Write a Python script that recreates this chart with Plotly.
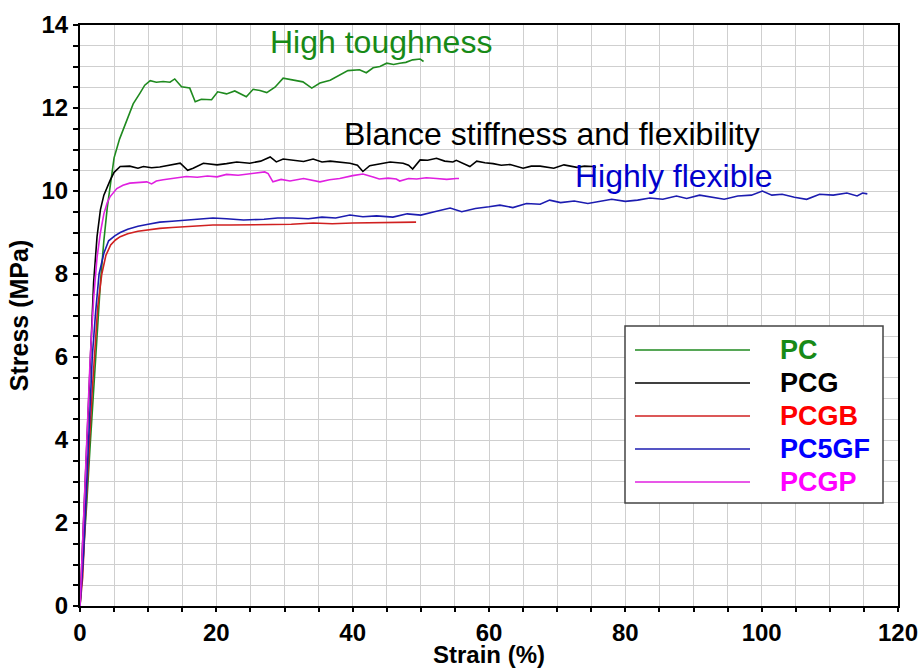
import plotly.graph_objects as go

# ---- data ----
PC_x = [0,0.5,1,1.5,2,2.5,3,3.5,4,4.5,5,5.8,6.8,7.8,8.8,9.5,10.3,11.2,12.2,13.2,13.9,14.9,16.1,16.9,17.8,19.3,20.2,21.5,22.7,23.6,24.4,25.4,26.4,27.4,28.6,29.8,31.3,32.7,34.0,35.2,36.7,38.1,39.3,41.0,42.0,43.0,44.0,45.0,46.0,46.9,47.8,48.8,49.9,50.4]
PC_y = [0,1.2,2.5,3.9,5.3,6.6,7.8,8.8,9.6,10.2,10.8,11.25,11.7,12.1,12.36,12.55,12.66,12.62,12.64,12.62,12.7,12.51,12.48,12.15,12.21,12.2,12.39,12.34,12.41,12.33,12.27,12.45,12.42,12.37,12.5,12.72,12.67,12.63,12.48,12.6,12.67,12.8,12.9,12.92,12.85,12.97,13.0,13.08,13.05,13.08,13.1,13.16,13.18,13.12]

PCG_x = [0,0.5,1,1.5,2,2.5,3,3.5,4,4.4,5,5.9,7.3,8.5,9.3,10.5,11.7,13,14.7,15.8,16.6,18.1,20.1,21.5,23,24.9,26.5,27.9,28.8,29.8,30.8,32.8,34.2,35.5,36.7,38,39.6,40.7,41.5,42.5,44,45.5,47.4,48.2,48.8,49.9,51,52.3,53.5,54.7,55.2,56.2,57.2,58.2,59.4,60.6,61.8,63.1,65,66.2,67.5,69.5,71,72.9,74,75.2,75.7]
PCG_y = [0,1.9,3.9,5.9,7.8,8.9,9.55,9.9,10.12,10.25,10.45,10.59,10.6,10.55,10.59,10.56,10.58,10.62,10.67,10.5,10.55,10.67,10.63,10.66,10.7,10.67,10.72,10.82,10.7,10.77,10.75,10.71,10.77,10.7,10.72,10.7,10.67,10.62,10.47,10.61,10.66,10.7,10.67,10.62,10.53,10.75,10.74,10.79,10.72,10.7,10.74,10.66,10.59,10.72,10.68,10.66,10.62,10.64,10.55,10.6,10.6,10.55,10.63,10.57,10.6,10.59,10.57]

PCGB_x = [0,0.4,0.75,1.1,1.4,1.8,2.2,2.6,3.2,3.8,4.5,5.2,5.9,7,8.5,10,11.7,13.5,15.5,17.5,19.5,22,25,28,31,34.2,37,40,43,46,48.8,49.3]
PCGB_y = [0,0.7,2.0,3.2,4.0,5.2,6.3,7.2,8.0,8.45,8.7,8.82,8.9,8.97,9.03,9.07,9.1,9.12,9.14,9.16,9.18,9.18,9.19,9.2,9.2,9.23,9.21,9.23,9.24,9.24,9.25,9.25]

PC5GF_x = [0,0.5,1,1.4,1.8,2.3,2.8,3.5,4.2,5.1,5.9,7,8.5,10,11.7,13.5,15.5,17.5,19.5,21.5,24,27,29,31.2,33.5,35.5,37.5,39.6,41.5,43.5,45.9,48,50,52,54.3,56,58,60,61.6,63.5,65.5,67.5,68.9,70.5,72.5,74.5,76.2,78,80,81.8,83.6,85.5,87.5,89,90.9,92.5,94.5,96.5,98.5,100.1,101.5,103,104.8,106.6,108.5,110.5,112.5,114,114.8,115.5]
PC5GF_y = [0,1.2,3.0,4.5,6.0,7.1,8.0,8.5,8.8,8.92,9.0,9.08,9.15,9.2,9.25,9.27,9.3,9.32,9.35,9.33,9.3,9.32,9.35,9.35,9.33,9.37,9.35,9.42,9.38,9.4,9.37,9.45,9.42,9.5,9.59,9.5,9.58,9.62,9.66,9.6,9.7,9.68,9.78,9.72,9.76,9.7,9.74,9.8,9.75,9.78,9.83,9.8,9.88,9.82,9.9,9.85,9.8,9.88,9.9,10.0,9.9,9.92,9.85,9.8,9.92,9.9,9.95,9.88,9.95,9.93]

PCGP_x = [0,0.5,1,1.5,2,2.5,3,3.5,4,4.4,5.4,6.3,7.3,8.5,9.8,10.5,11.2,12.2,13.8,15.6,17.2,18.7,20.1,21.5,23.2,24.9,26,27.1,27.6,28.3,29.5,30.8,32.8,34,35.2,36.6,38.1,40,41.5,43,43.9,45.2,46.4,46.9,48.2,49.4,50.8,52.3,53.8,55.2,55.6]
PCGP_y = [0,2.0,4.0,6.0,7.4,8.4,9.0,9.45,9.72,9.86,10.06,10.14,10.19,10.2,10.22,10.17,10.24,10.27,10.3,10.35,10.33,10.36,10.34,10.4,10.38,10.41,10.43,10.46,10.42,10.22,10.28,10.24,10.3,10.26,10.22,10.27,10.3,10.37,10.41,10.34,10.29,10.31,10.29,10.24,10.3,10.29,10.32,10.3,10.28,10.3,10.3]

series = [
    ("PC", PC_x, PC_y, "#1f8a1f", "#178a17"),
    ("PCG", PCG_x, PCG_y, "#000000", "#000000"),
    ("PCGB", PCGB_x, PCGB_y, "#d02020", "#ff0000"),
    ("PC5GF", PC5GF_x, PC5GF_y, "#1c1cb0", "#0000ff"),
    ("PCGP", PCGP_x, PCGP_y, "#e020e0", "#ff00ff"),
]

notes = [
    ("High toughness", 44.2, 13.6, "#178a17"),
    ("Blance stiffness and flexibility", 69.2, 11.37, "#000000"),
    ("Highly flexible", 87.0, 10.36, "#0000cc"),
]

X_TICKS = list(range(0, 121, 5))
Y_TICKS = [i * 0.5 for i in range(0, 29)]

FONT = "Liberation Sans, Arial, sans-serif"

FW, FH = 921, 668
# plot area in figure px
L, R, T, B = 80, 898, 25, 606
W, H = R - L, B - T
def px(xp): return (xp - L) / W
def py(yp): return (B - yp) / H

fig = go.Figure()
for name, xs, ys, lc, tc in series:
    fig.add_trace(go.Scatter(x=xs, y=ys, mode="lines",
                             line=dict(color=lc, width=1.6), name=name,
                             showlegend=False))

for text, x, y, c in notes:
    fig.add_annotation(x=x, y=y, text=text, showarrow=False,
                       font=dict(family=FONT, size=32, color=c),
                       xanchor="center", yanchor="middle")

# legend box
fig.add_shape(type="rect", xref="paper", yref="paper",
              x0=px(625), x1=px(883), y0=py(503), y1=py(326),
              fillcolor="white", line=dict(color="#444444", width=1.5), layer="above")
for i, (name, xs, ys, lc, tc) in enumerate(series):
    yy = 350 + 33 * i
    fig.add_shape(type="line", xref="paper", yref="paper",
                  x0=px(635), x1=px(750), y0=py(yy), y1=py(yy),
                  line=dict(color=lc, width=1.6), layer="above")
    fig.add_annotation(xref="paper", yref="paper", x=px(778), y=py(yy),
                       text=f"<b>{name}</b>", showarrow=False,
                       xanchor="left", yanchor="middle",
                       font=dict(family=FONT, size=27, color=tc))

fig.update_layout(
    width=FW, height=FH,
    margin=dict(l=L, r=FW - R, t=T, b=FH - B),
    paper_bgcolor="white", plot_bgcolor="white",
    font=dict(family=FONT, color="black"),
    showlegend=False,
)

grid = dict(showgrid=True, gridcolor="#cfcfcf", gridwidth=1.3, zeroline=False,
            showline=True, linecolor="black", linewidth=2, mirror=True,
            ticks="outside", tickwidth=1.5, tickcolor="black",
            automargin=False, ticklabeloverflow="allow")

fig.update_xaxes(
    range=[0, 120], tickmode="array", tickvals=X_TICKS, ticklen=4,
    ticktext=[f"<b>{v}</b>" if v % 20 == 0 else "" for v in X_TICKS],
    tickfont=dict(family=FONT, size=24, color="black"),
    title=dict(text="<b>Strain (%)</b>", font=dict(family=FONT, size=24), standoff=5),
    **grid,
)
fig.update_yaxes(
    range=[0, 14], tickmode="array", tickvals=Y_TICKS, ticklen=5,
    ticktext=[f"<b>{int(v)}</b>" if v % 2 == 0 else "" for v in Y_TICKS],
    tickfont=dict(family=FONT, size=24, color="black"),
    title=dict(text="<b>Stress (MPa)</b>", font=dict(family=FONT, size=25), standoff=6),
    **grid,
)

# remove the page's default 8 px body margin so the figure fills the window exactly
fig.write_html("out.html", config={"displayModeBar": False},
               post_script="document.body.style.margin='0';document.body.style.overflow='hidden';")
